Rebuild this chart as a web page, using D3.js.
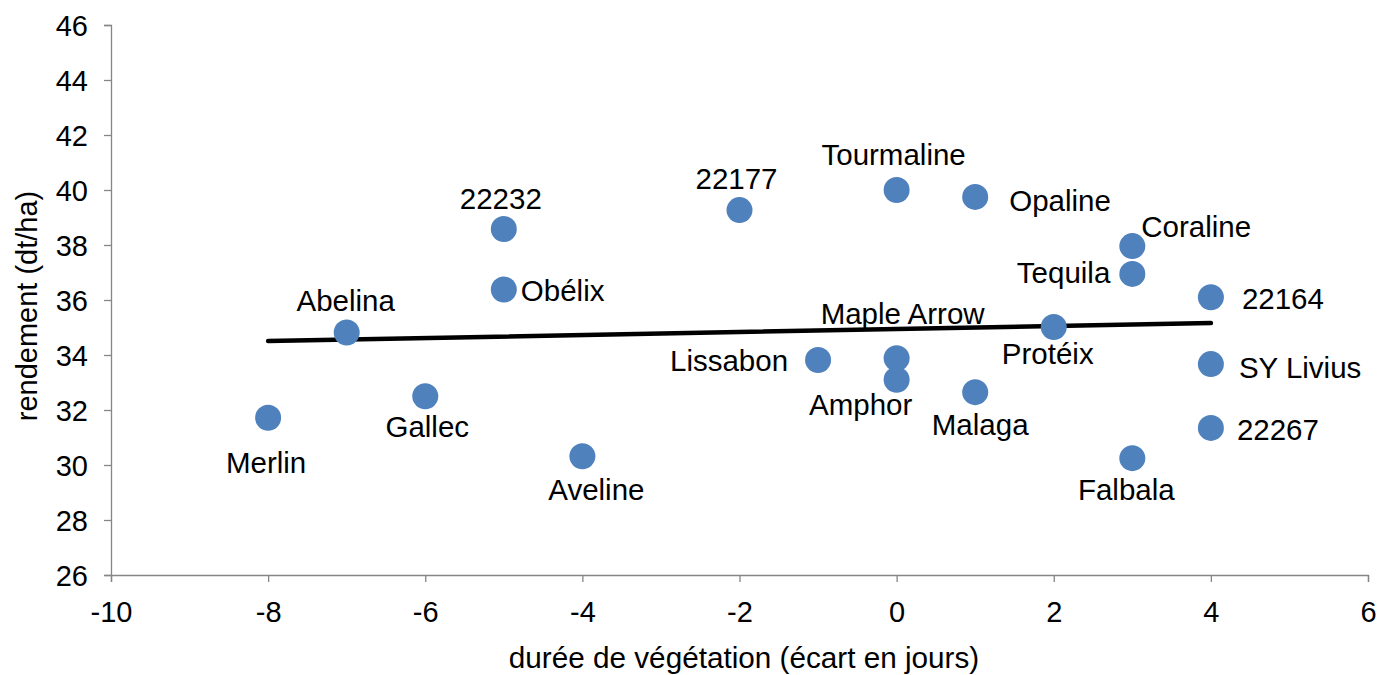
<!DOCTYPE html>
<html>
<head>
<meta charset="utf-8">
<script src="https://cdn.jsdelivr.net/npm/d3@7"></script>
<style>
  html, body { margin: 0; padding: 0; background: #fff; }
  svg { display: block; font-family: "Liberation Sans", Arial, sans-serif; }
</style>
</head>
<body>
<svg id="chart" width="1379" height="675"></svg>
<script>
// ---- data ----
const varieties = ["Merlin","Abelina","Gallec","22232","Obélix","Aveline","22177","Lissabon",
  "Tourmaline","Maple Arrow","Amphor","Opaline","Malaga","Protéix","Coraline","Tequila",
  "Falbala","22164","SY Livius","22267"];
const ecartJours = [-8,-7,-6,-5,-5,-4,-2,-1,0,0,0,1,1,2,3,3,3,4,4,4];
const rendement = [31.72,34.82,32.5,38.58,36.38,30.32,39.27,33.82,40.0,33.88,33.1,39.75,32.65,35.02,37.96,36.95,30.25,36.1,33.67,31.35];
const trendX = [-8, 4];
const trendY = [34.51, 35.16];
const xTicks = [-10,-8,-6,-4,-2,0,2,4,6];
const yTicks = [26,28,30,32,34,36,38,40,42,44,46];
const xTitle = "durée de végétation (écart en jours)";
const yTitle = "rendement (dt/ha)";

// label placement (pixels relative to marker): [dx, dy, anchor]
const labelPlacement = [
  [-2,45,"middle"],[-1,-32,"middle"],[2,30,"middle"],[-3,-30,"middle"],[17,1,"start"],
  [14,33,"middle"],[-3,-31,"middle"],[-30,1,"end"],[-3,-35,"middle"],[6,-45,"middle"],
  [-36,25,"middle"],[34,4,"start"],[5,33,"middle"],[-6,27,"middle"],[9,-19,"start"],
  [-22,-1,"end"],[-6,32,"middle"],[31,1,"start"],[28,4,"start"],[26,2,"start"]
];

// ---- chart ----
const svg = d3.select("#chart");
const x = d3.scaleLinear().domain([-10, 6]).range([111, 1368]);
const y = d3.scaleLinear().domain([26, 46]).range([575, 25]);
const axisColor = "#868686";
const tickFs = 29;
const labelFs = 29.5;

const gx = svg.append("g").attr("transform", `translate(0,${y(26)})`)
  .call(d3.axisBottom(x).tickValues(xTicks).tickSizeOuter(0).tickSize(7).tickPadding(10).tickFormat(d => String(d)));
const gy = svg.append("g").attr("transform", `translate(${x(-10)},0)`)
  .call(d3.axisLeft(y).tickValues(yTicks).tickSizeOuter(0).tickSize(7).tickPadding(16).tickFormat(d => String(d)));

[gx, gy].forEach(g => {
  g.select(".domain").attr("stroke", axisColor).attr("stroke-width", 1.3);
  g.selectAll(".tick line").attr("stroke", axisColor).attr("stroke-width", 1.3);
  g.selectAll(".tick text").attr("fill", "#000").style("font-size", tickFs + "px")
    .style("font-family", '"Liberation Sans", Arial, sans-serif');
});
gx.selectAll(".tick text").attr("y", 0).attr("dy", "0").attr("transform", "translate(0,47)");
gy.selectAll(".tick text").attr("dy", "0.35em");

// trend line
const pts = trendX.map((v, i) => [x(v), y(trendY[i])]);
svg.append("path").attr("d", d3.line()(pts))
  .attr("stroke", "#000").attr("stroke-width", 4.5).attr("fill", "none").attr("stroke-linecap", "round");

// points
const data = varieties.map((n, i) => ({ name: n, x: ecartJours[i], y: rendement[i], lp: labelPlacement[i] }));
svg.append("g").selectAll("circle").data(data).join("circle")
  .attr("cx", d => x(d.x)).attr("cy", d => y(d.y)).attr("r", 13)
  .attr("fill", "#4F81BD");

svg.append("g").selectAll("text").data(data).join("text")
  .attr("x", d => x(d.x) + d.lp[0]).attr("y", d => y(d.y) + d.lp[1])
  .attr("dy", "0.35em").attr("text-anchor", d => d.lp[2])
  .style("font-size", labelFs + "px").attr("fill", "#000")
  .text(d => d.name);

// axis titles
svg.append("text").attr("x", 744).attr("y", 668).attr("text-anchor", "middle")
  .style("font-size", "29.7px").attr("fill", "#000").text(xTitle);
svg.append("text").attr("transform", "translate(37,306) rotate(-90)").attr("text-anchor", "middle")
  .style("font-size", "29px").attr("fill", "#000").text(yTitle);
</script>
</body>
</html>
